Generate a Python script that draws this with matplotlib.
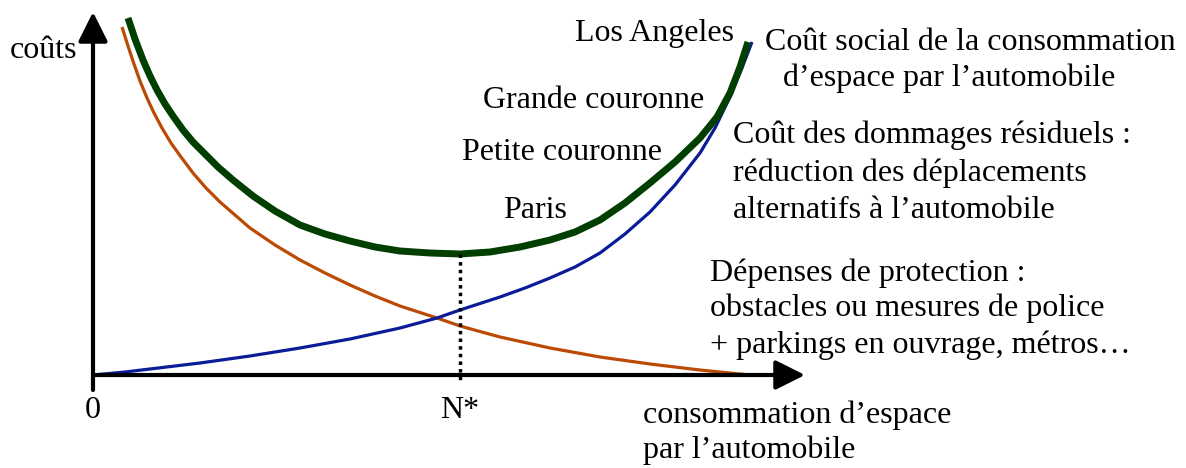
import matplotlib.pyplot as plt

# Curves (x: space consumption, y: cost), origin at the axes corner
orange_x = [29, 35, 41, 47, 54, 61, 69, 78, 88, 100, 113, 127, 142, 157, 182, 207, 232, 257, 282,
            307, 344, 367, 407, 457, 507, 557, 607, 657]
orange_y = [348, 329, 311, 294, 277, 262, 247, 232, 218, 202, 187, 173, 160, 147, 130, 115, 102, 90, 79,
            69, 57, 49, 38, 27, 18, 11, 5, 0]

blue_x = [0, 32, 57, 107, 157, 207, 257, 307, 344, 367, 407, 432, 457, 482, 507, 532, 557, 582,
          607, 622, 637, 649, 659]
blue_y = [0, 3, 6, 12, 19, 27, 36, 47, 57, 65, 78, 87, 97, 108, 122, 141, 163, 190,
          222, 247, 278, 307, 333]

green_x = [35, 42, 50, 57, 64, 72, 80, 90, 100, 112, 125, 140, 160, 182, 207, 232, 257, 282, 307, 337,
           367, 397, 427, 457, 482, 507, 532, 557, 582, 607, 624, 637, 647, 655]
green_y = [357, 336, 315, 299, 285, 271, 259, 245, 233, 221, 208, 195, 179, 164, 150, 141, 134, 128, 124, 122,
           121, 123, 128, 135, 143, 155, 172, 192, 213, 237, 258, 282, 308, 333]

n_star = 367
n_star_cost = 121

plt.rcParams['font.family'] = ['Liberation Serif', 'DejaVu Serif']

fig = plt.figure(figsize=(11.86, 4.68), dpi=100)
ax = fig.add_axes([0, 0, 1, 1])
ax.set_xlim(-93, 1093)
ax.set_ylim(-93, 375)
ax.axis('off')

# axes with arrows
arrow = dict(arrowstyle='-|>', lw=3, color='black', mutation_scale=45, shrinkA=0, shrinkB=0)
ax.annotate('', xy=(0, 363), xytext=(0, -15), arrowprops=arrow)
ax.annotate('', xy=(712, 0), xytext=(0, 0), arrowprops=arrow)

ax.plot(orange_x, orange_y, color='#bb4a05', lw=2.3, solid_capstyle='butt', solid_joinstyle='round')
ax.plot(blue_x, blue_y, color='#0b1c99', lw=2.3, solid_capstyle='butt', solid_joinstyle='round')
ax.plot(green_x, green_y, color='#003f00', lw=5, solid_capstyle='butt', solid_joinstyle='round')

ax.plot([n_star, n_star], [n_star_cost, -5], color='black', lw=2.5, linestyle=(0, (1, 1.2)))

fs = 23
ax.text(-83, 325, 'coûts', fontsize=fs, va='center', ha='left')
ax.text(0, -35, '0', fontsize=fs, va='center', ha='center')
ax.text(n_star, -35, 'N*', fontsize=fs, va='center', ha='center')
ax.text(550, -40, 'consommation d’espace', fontsize=fs, va='center', ha='left')
ax.text(550, -75, 'par l’automobile', fontsize=fs, va='center', ha='left')

ax.text(482, 342, 'Los Angeles', fontsize=fs, va='center', ha='left')
ax.text(390, 275, 'Grande couronne', fontsize=fs, va='center', ha='left')
ax.text(369, 222, 'Petite couronne', fontsize=fs, va='center', ha='left')
ax.text(410, 165, 'Paris', fontsize=fs, va='center', ha='left')

ax.text(672, 332, 'Coût social de la consommation', fontsize=fs, va='center', ha='left')
ax.text(690, 297, 'd’espace par l’automobile', fontsize=fs, va='center', ha='left')

ax.text(640, 240, 'Coût des dommages résiduels :', fontsize=fs, va='center', ha='left')
ax.text(640, 202, 'réduction des déplacements', fontsize=fs, va='center', ha='left')
ax.text(640, 165, 'alternatifs à l’automobile', fontsize=fs, va='center', ha='left')

ax.text(617, 102, 'Dépenses de protection :', fontsize=fs, va='center', ha='left')
ax.text(617, 67, 'obstacles ou mesures de police', fontsize=fs, va='center', ha='left')
ax.text(617, 30, '+ parkings en ouvrage, métros…', fontsize=fs, va='center', ha='left')

fig.savefig('out.png', dpi=100)
